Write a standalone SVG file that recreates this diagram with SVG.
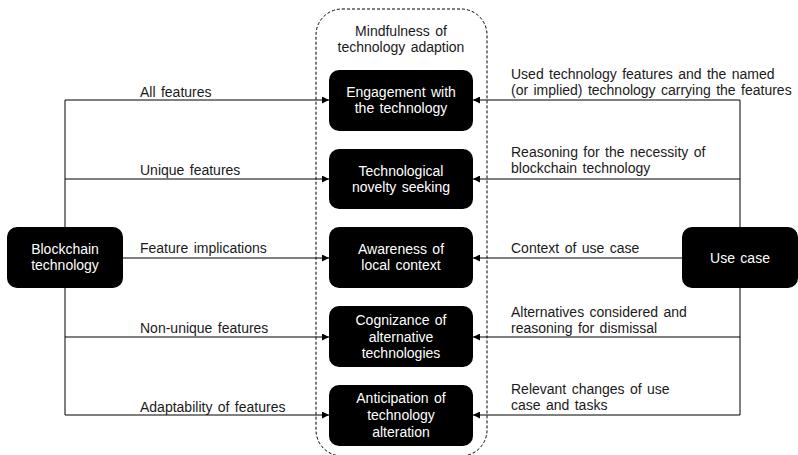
<svg xmlns="http://www.w3.org/2000/svg" width="798" height="455" viewBox="0 0 798 455">
<defs>
<marker id="ah" markerWidth="7" markerHeight="7" refX="7" refY="3.5" orient="auto" markerUnits="userSpaceOnUse">
<path d="M0,0 L7,3.5 L0,7 Z" fill="#000"/>
</marker>
<style>
text{font-family:"Liberation Sans",Arial,sans-serif;font-size:14px;fill:#1a1a1a;word-spacing:1.5px}
.w{fill:#fff;text-anchor:middle}
.c{text-anchor:middle}
.n{fill:#000}
.ln{stroke:#000;stroke-width:1;fill:none}
.ar{stroke:#000;stroke-width:1;fill:none;marker-end:url(#ah)}
</style>
</defs>
<rect width="798" height="455" fill="#fff"/>
<g id="container">
<rect x="316" y="9" width="171" height="447" rx="26" fill="none" stroke="#000" stroke-width="1" stroke-dasharray="3,2"/>
<text class="c" x="401" y="36">Mindfulness of</text>
<text class="c" x="401" y="52">technology adaption</text>
</g>
<g id="connectors">
<path class="ln" d="M65,100 V415"/>
<path class="ar" d="M65,100 H329"/>
<path class="ar" d="M65,179 H329"/>
<path class="ar" d="M123,258 H329"/>
<path class="ar" d="M65,337 H329"/>
<path class="ar" d="M65,415 H329"/>
<path class="ln" d="M740,100 V415"/>
<path class="ar" d="M740,100 H473"/>
<path class="ar" d="M740,179 H473"/>
<path class="ar" d="M682,258 H473"/>
<path class="ar" d="M740,337 H473"/>
<path class="ar" d="M740,415 H473"/>
<text x="140" y="97">All features</text>
<text x="140" y="175">Unique features</text>
<text x="140" y="253">Feature implications</text>
<text x="140" y="333">Non-unique features</text>
<text x="140" y="412">Adaptability of features</text>
<text x="511" y="79">Used technology features and the named</text>
<text x="511" y="95">(or implied) technology carrying the features</text>
<text x="511" y="157">Reasoning for the necessity of</text>
<text x="511" y="173">blockchain technology</text>
<text x="511" y="253">Context of use case</text>
<text x="511" y="317">Alternatives considered and</text>
<text x="511" y="333">reasoning for dismissal</text>
<text x="511" y="394">Relevant changes of use</text>
<text x="511" y="410">case and tasks</text>
</g>
<g id="blockchain">
<rect class="n" x="7" y="227" width="116" height="61" rx="10"/>
<text class="w" x="65" y="254">Blockchain</text>
<text class="w" x="65" y="270">technology</text>
</g>
<g id="usecase">
<rect class="n" x="682" y="227" width="116" height="61" rx="10"/>
<text class="w" x="740" y="263">Use case</text>
</g>
<g id="engagement">
<rect class="n" x="329" y="70" width="144" height="61" rx="10"/>
<text class="w" x="401" y="97">Engagement with</text>
<text class="w" x="401" y="113">the technology</text>
</g>
<g id="novelty">
<rect class="n" x="329" y="149" width="144" height="60" rx="10"/>
<text class="w" x="401" y="176">Technological</text>
<text class="w" x="401" y="192">novelty seeking</text>
</g>
<g id="awareness">
<rect class="n" x="329" y="227" width="144" height="61" rx="10"/>
<text class="w" x="401" y="254">Awareness of</text>
<text class="w" x="401" y="270">local context</text>
</g>
<g id="cognizance">
<rect class="n" x="329" y="306" width="144" height="61" rx="10"/>
<text class="w" x="401" y="325">Cognizance of</text>
<text class="w" x="401" y="341.5">alternative</text>
<text class="w" x="401" y="358">technologies</text>
</g>
<g id="anticipation">
<rect class="n" x="329" y="385" width="144" height="61" rx="10"/>
<text class="w" x="401" y="403">Anticipation of</text>
<text class="w" x="401" y="420">technology</text>
<text class="w" x="401" y="437">alteration</text>
</g>
</svg>
